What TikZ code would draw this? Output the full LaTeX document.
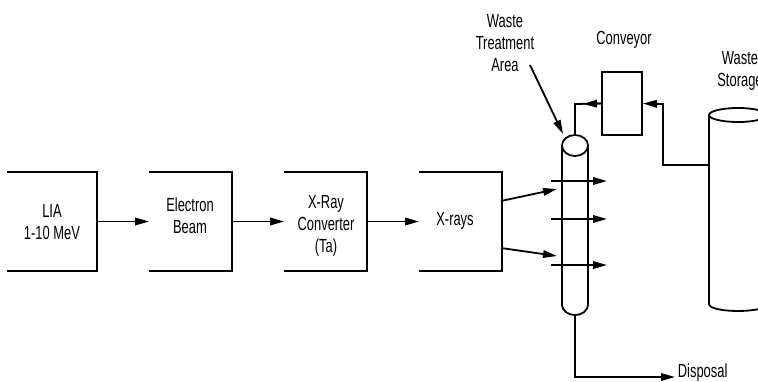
\documentclass[tikz,border=0pt]{standalone}
\usepackage{fontspec}
\setmainfont{Liberation Sans}[FakeStretch=0.68]
\usetikzlibrary{arrows.meta}
\begin{document}
\begin{tikzpicture}[x=1pt,y=-1pt,
  line width=1.8pt,
  arr/.style={-{Triangle[length=14pt,width=7.5pt]}},
  openbox/.style={draw=none, minimum width=81pt, minimum height=97pt, inner sep=0pt},
  lbl/.style={font=\fontsize{19}{22}\selectfont, align=center, inner sep=0pt}]
\useasboundingbox (0,0) rectangle (758,381);
\clip (0,0) rectangle (758,381);

% process boxes (open on the left)
\node[openbox, minimum width=88pt] (lia) at (52,221.5) {};
\node[openbox] (eb) at (190.5,221.5) {};
\node[openbox] (xc) at (325.5,221.5) {};
\node[openbox] (xr) at (460.5,221.5) {};
\foreach \b in {lia,eb,xc,xr}
  \draw (\b.north west) -- (\b.north east) -- (\b.south east) -- (\b.south west);

\node[lbl] (liat) at (52,222.5) {LIA\\1-10 MeV};
\node[lbl] (ebt) at (190,216) {Electron\\Beam};
\node[lbl] (xct) at (326,225.5) {X-Ray\\Converter\\(Ta)};
\node[lbl] (xrt) at (455,221) {X-rays};

\draw[arr] (lia.east) -- (eb.west);
\draw[arr] (eb.east) -- (xc.west);
\draw[arr] (xc.east) -- (xr.west);

% treatment tube
\coordinate (tubetop) at (575,135);
\coordinate (tubebot) at (575,315);
\draw (575,145.5) ellipse [x radius=13, y radius=10.5];
\draw (562,145.5) -- (562,304) .. controls (562,318.7) and (588,318.7) .. (588,304) -- (588,145.5);

% arrows through the tube
\coordinate (h1s) at (551,181); \coordinate (h1e) at (607,181);
\coordinate (h2s) at (551,219); \coordinate (h2e) at (607,219);
\coordinate (h3s) at (551,265); \coordinate (h3e) at (607,265);
\draw[arr] (h1s) -- (h1e);
\draw[arr] (h2s) -- (h2e);
\draw[arr] (h3s) -- (h3e);

% x-ray arrows into tube
\coordinate (xa1) at (501,201); \coordinate (xt1) at (557,189);
\coordinate (xa2) at (501,248); \coordinate (xt2) at (557,256);
\draw[arr] (xa1) -- (xt1);
\draw[arr] (xa2) -- (xt2);

% waste treatment area label
\node[lbl] (wta) at (505,43) {Waste\\Treatment\\Area};
\coordinate (wtas) at (530,65);
\coordinate (wtae) at (563,134);
\draw[arr] (wtas) -- (wtae);

% conveyor
\node[draw, minimum width=40pt, minimum height=63pt, inner sep=0pt] (conv) at (622,103.5) {};
\node[lbl] (convt) at (624,40) {Conveyor};
\coordinate (cl) at (575,104);
\coordinate (clh) at (583,104);
\draw (conv.west) -- (cl) -- (tubetop);
\draw[arr] (conv.west) -- (clh);

% waste storage
\draw (738,115) ellipse [x radius=29, y radius=7];
\draw (709,115) -- (709,304) .. controls (709,313.3) and (767,313.3) .. (767,304) -- (767,115);
\coordinate (stl) at (709,165);
\coordinate (cr1) at (663,165);
\coordinate (cr2) at (663,104);
\draw[arr] (stl) -- (cr1) -- (cr2) -- (conv.east);
\node[lbl] (wst) at (740,71) {Waste\\Storage};

% disposal
\node[lbl, anchor=base west] (disp) at (677,377) {Disposal};
\coordinate (dcorner) at (575,377);
\coordinate (dend) at (675,377);
\draw[arr] (tubebot) -- (dcorner) -- (dend);
\end{tikzpicture}
\end{document}
